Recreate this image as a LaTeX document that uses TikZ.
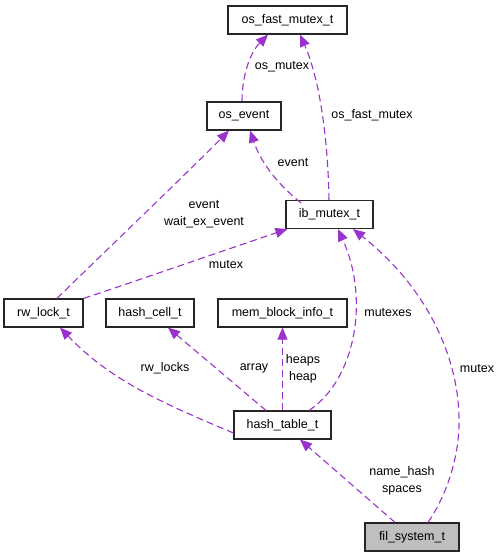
\documentclass[tikz,border=0pt]{standalone}
\usepackage{fontspec}
\setmainfont{Liberation Sans}
\usetikzlibrary{arrows.meta}
\definecolor{edgecol}{RGB}{154,50,205}
\definecolor{fillgray}{RGB}{191,191,191}
\tikzset{
  box/.style={draw=black!85, line width=1.1pt, inner sep=0pt, minimum height=28pt,
    font=\fontsize{12.5}{15}\selectfont, fill=white},
  rel/.style={draw=edgecol, line width=1.1pt, dash pattern=on 7pt off 4pt,
    -{Triangle[length=12pt,width=10pt]}, fill=none},
  lbl/.style={font=\fontsize{12.5}{17}\selectfont, inner sep=0pt, align=center}
}
\begin{document}
\begin{tikzpicture}[x=1pt,y=-1pt]
\useasboundingbox (0,0) rectangle (501,557);
% nodes
\node[box, minimum width=119pt] (ofm) at (287.5,20) {os\_fast\_mutex\_t};
\node[box, minimum width=74pt] (oe) at (244,116) {os\_event};
\node[box, minimum width=87pt] (ib) at (329.5,214.5) {ib\_mutex\_t};
\node[box, minimum width=79pt] (rw) at (43.5,313) {rw\_lock\_t};
\node[box, minimum width=88pt] (hc) at (150,313) {hash\_cell\_t};
\node[box, minimum width=129pt] (mb) at (282.5,313) {mem\_block\_info\_t};
\node[box, minimum width=97pt] (ht) at (282.5,425) {hash\_table\_t};
\node[box, minimum width=94pt, fill=fillgray] (fs) at (412,537) {fil\_system\_t};
% edges
\draw[rel] ([xshift=-2pt]oe.north) .. controls (242,80) and (248,55) .. ([xshift=-19.5pt]ofm.south);
\draw[rel] ([xshift=-0.5pt]ib.north) .. controls (328,140) and (320,80) .. ([xshift=12.5pt]ofm.south);
\draw[rel] ([xshift=-28.5pt,yshift=-3pt]ib.north) .. controls (275,182) and (260,160) .. ([xshift=6pt]oe.south);
\draw[rel] ([xshift=13.5pt]rw.north) .. controls (65,290) and (180,180) .. ([xshift=-15pt]oe.south);
\draw[rel] (rw.north east) .. controls (130,283) and (240,245) .. ([xshift=2pt]ib.south west);
\draw[rel] ([yshift=-8pt]ht.west) .. controls (160,402) and (110,380) .. ([xshift=16.5pt]rw.south);
\draw[rel] ([xshift=-16.5pt]ht.north) -- ([xshift=18pt]hc.south);
\draw[rel] (ht.north) -- (mb.south);
\draw[rel] ([xshift=26.5pt]ht.north) .. controls (355,380) and (370,300) .. ([xshift=8.5pt]ib.south);
\draw[rel] ([xshift=-17pt]fs.north) -- ([xshift=17.5pt]ht.south);
\draw[rel] ([xshift=16pt]fs.north) .. controls (450,490) and (460,450) .. (459,417) .. controls (458,360) and (430,290) .. ([xshift=23.5pt]ib.south);
% labels
\node[lbl] (l1) at (282,67) {os\_mutex};
\node[lbl] (l2) at (372,115) {os\_fast\_mutex};
\node[lbl] (l3) at (293,163) {event};
\node[lbl] (l4) at (204,214) {event\\wait\_ex\_event};
\node[lbl] (l5) at (226,265) {mutex};
\node[lbl] (l6) at (165,368) {rw\_locks};
\node[lbl] (l7) at (254,368) {array};
\node[lbl] (l8) at (303,368.5) {heaps\\heap};
\node[lbl] (l9) at (388,313) {mutexes};
\node[lbl] (l10) at (402,480.5) {name\_hash\\spaces};
\node[lbl] (l11) at (477,369) {mutex};
\end{tikzpicture}
\end{document}
